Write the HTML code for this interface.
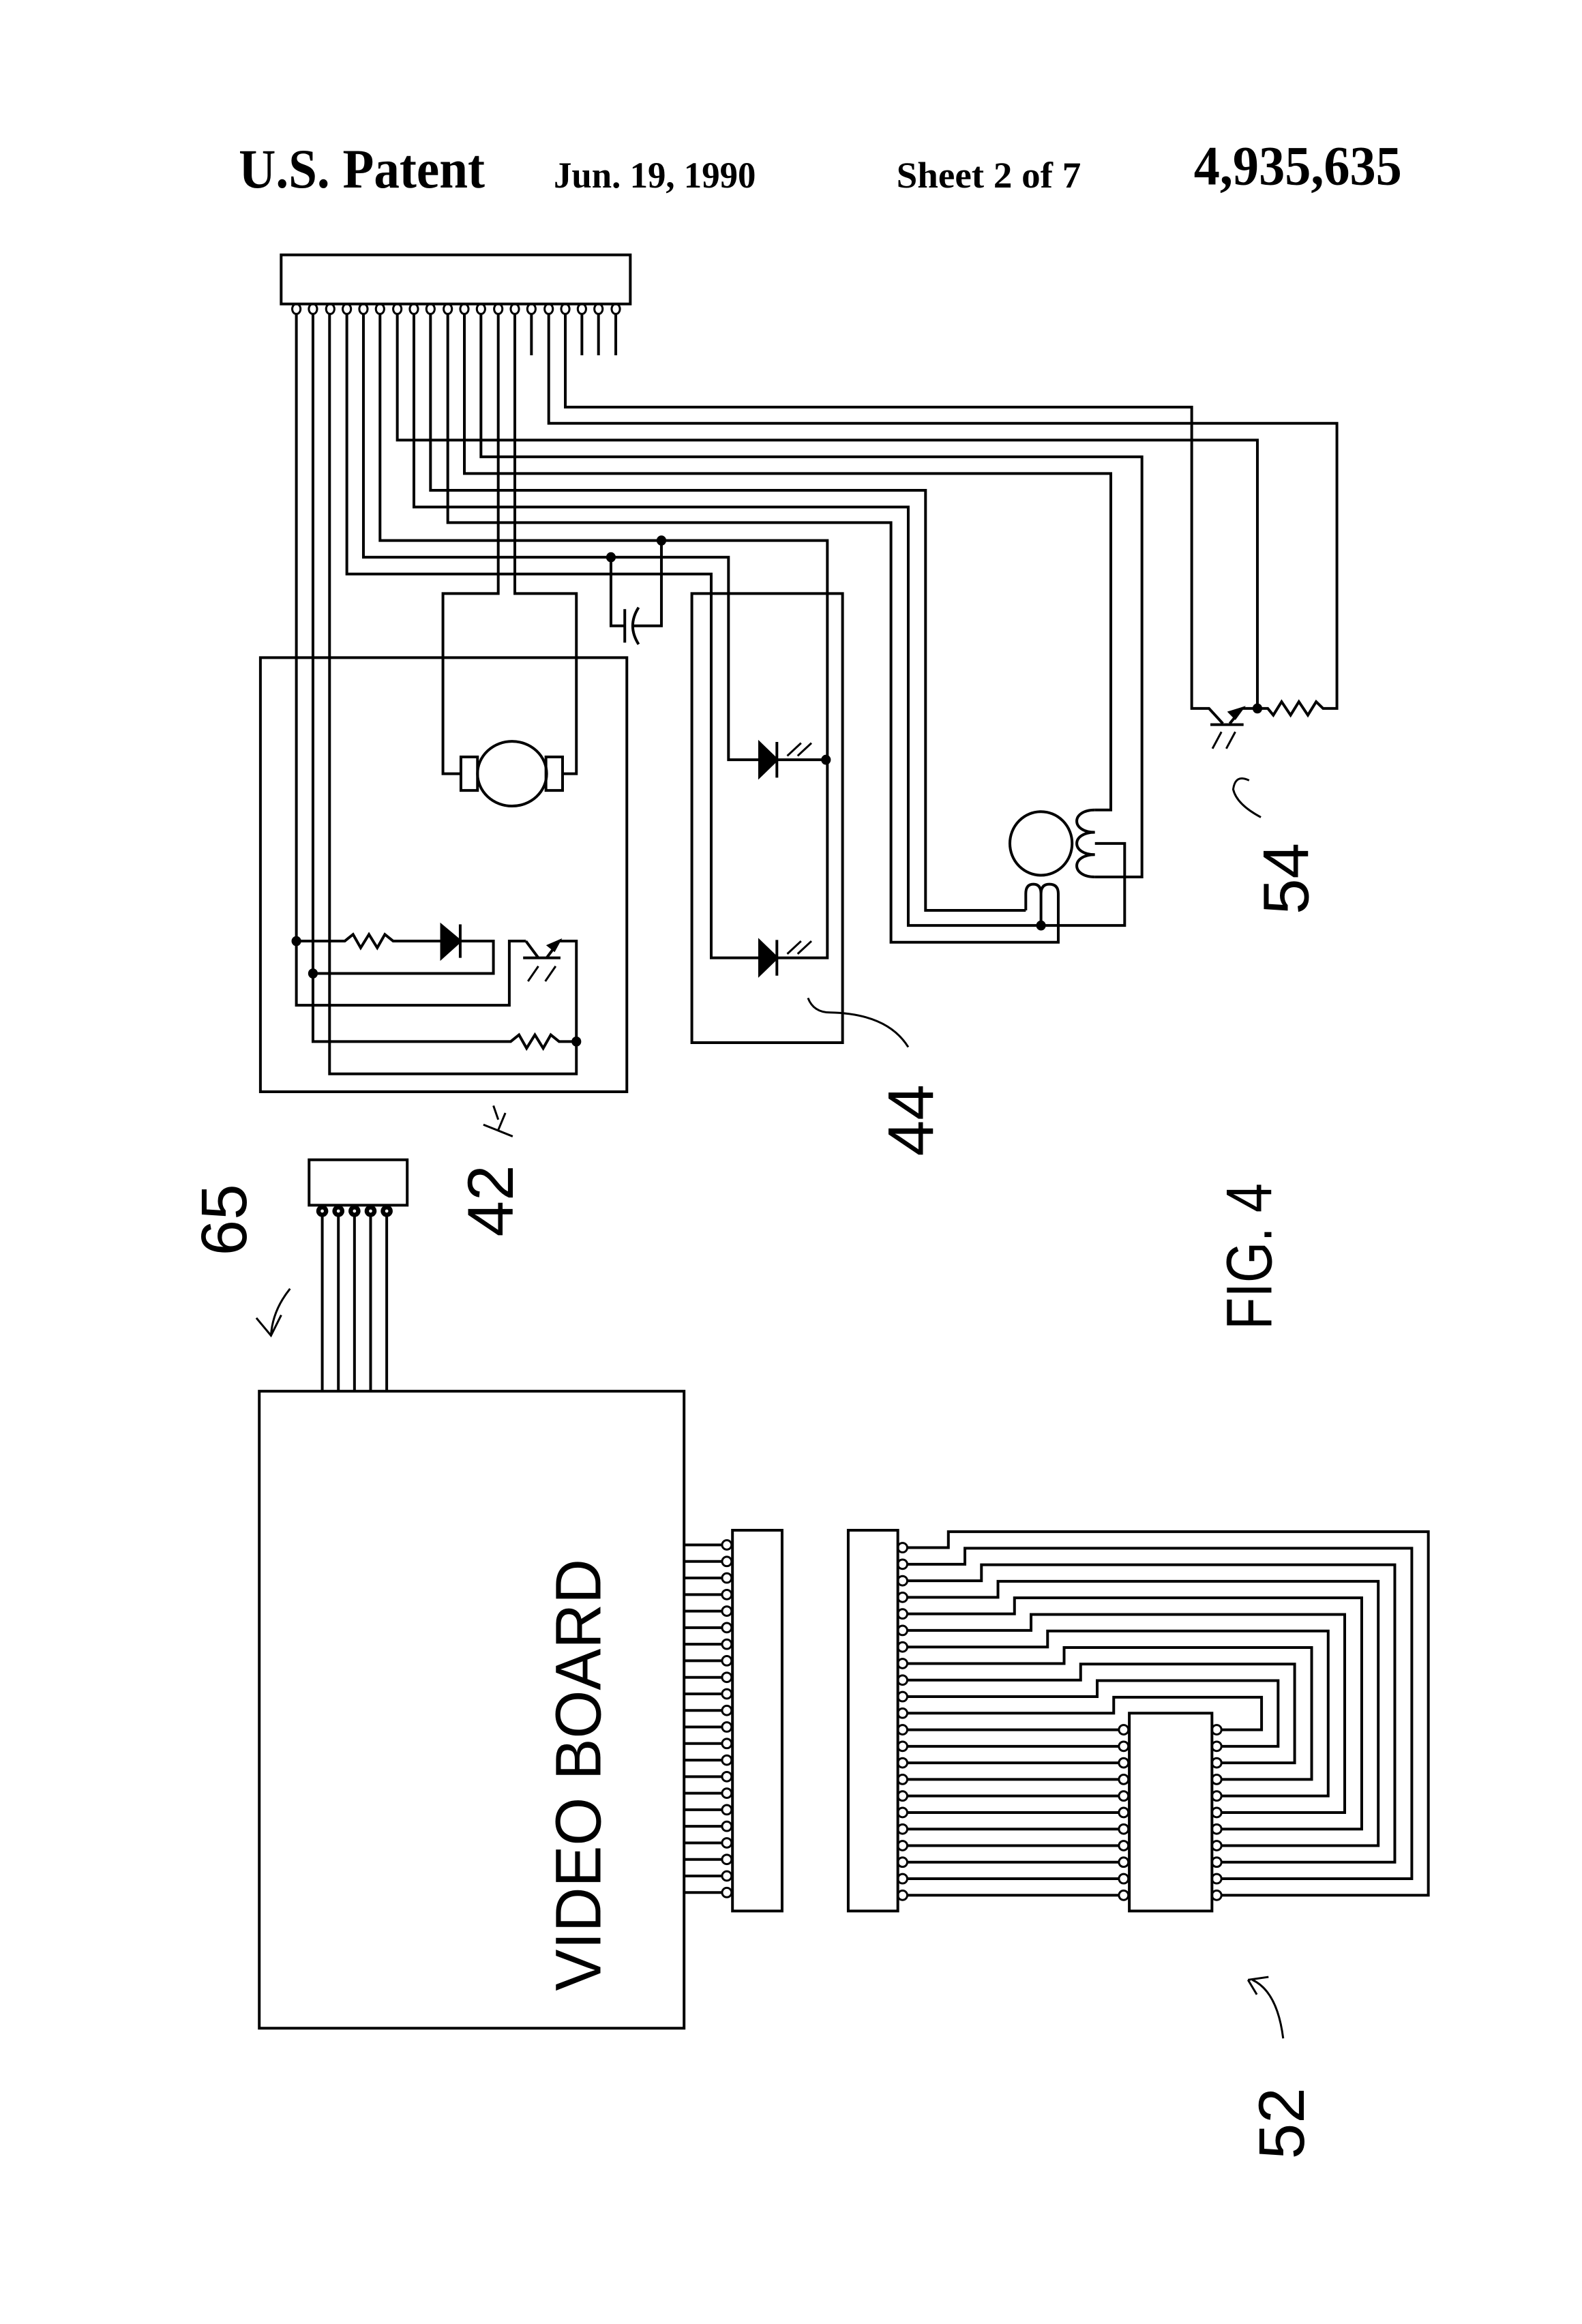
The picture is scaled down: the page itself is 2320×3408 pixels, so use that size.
<!DOCTYPE html>
<html><head><meta charset="utf-8"><style>
html,body{margin:0;padding:0;background:#fff}
svg{display:block}
.s path,.s rect,.s line,.s ellipse,.s polyline{vector-effect:non-scaling-stroke}
</style></head><body>
<svg class="s" width="2320" height="3408" viewBox="0 0 1080 1587" preserveAspectRatio="none" xmlns="http://www.w3.org/2000/svg">
<rect width="1080" height="1587" fill="#fff"/>
<g font-family="Liberation Serif, serif" font-weight="bold" fill="#000">
<text x="163" y="128" font-size="38" textLength="168" lengthAdjust="spacingAndGlyphs">U.S. Patent</text>
<text x="378" y="128" font-size="25" textLength="138" lengthAdjust="spacingAndGlyphs">Jun. 19, 1990</text>
<text x="612" y="128" font-size="25" textLength="126" lengthAdjust="spacingAndGlyphs">Sheet 2 of 7</text>
<text x="815" y="126" font-size="38" textLength="142" lengthAdjust="spacingAndGlyphs">4,935,635</text>
</g>

<g fill="none" stroke="#000" stroke-width="4">
<!-- TOP CIRCUIT in zoom coords -->
<g transform="translate(174,166.4) scale(0.472,0.381)">
<rect x="38" y="20" width="505" height="88"/>
<g stroke-width="3">
<ellipse cx="60" cy="117" rx="6" ry="9"/><ellipse cx="84" cy="117" rx="6" ry="9"/><ellipse cx="109" cy="117" rx="6" ry="9"/><ellipse cx="133" cy="117" rx="6" ry="9"/><ellipse cx="157" cy="117" rx="6" ry="9"/><ellipse cx="181" cy="117" rx="6" ry="9"/><ellipse cx="206" cy="117" rx="6" ry="9"/><ellipse cx="230" cy="117" rx="6" ry="9"/><ellipse cx="254" cy="117" rx="6" ry="9"/><ellipse cx="279" cy="117" rx="6" ry="9"/><ellipse cx="303" cy="117" rx="6" ry="9"/><ellipse cx="327" cy="117" rx="6" ry="9"/><ellipse cx="352" cy="117" rx="6" ry="9"/><ellipse cx="376" cy="117" rx="6" ry="9"/><ellipse cx="400" cy="117" rx="6" ry="9"/><ellipse cx="425" cy="117" rx="6" ry="9"/><ellipse cx="449" cy="117" rx="6" ry="9"/><ellipse cx="473" cy="117" rx="6" ry="9"/><ellipse cx="497" cy="117" rx="6" ry="9"/><ellipse cx="522" cy="117" rx="6" ry="9"/>
</g>
<path d="M400,126V200M473,126V200M497,126V200M522,126V200"/>
<!-- box 42 -->
<rect x="8" y="742" width="530" height="778"/>
<path d="M60,126V1365H368V1250H392"/>
<path d="M60,1250H130L142,1238L153,1262L165,1238L177,1262L188,1238L200,1250H270M297,1250H345V1308H84"/>
<path d="M270,1222L270,1280L297,1250Z" fill="#000"/>
<path d="M297,1220V1280"/>
<path d="M84,126V1430H370L382,1418L393,1442L405,1418L417,1442L428,1418L440,1430H465"/>
<path d="M108,126V1488H465V1250H440"/>
<path d="M392,1250L410,1280M388,1280H442M422,1280L440,1250"/>
<path d="M440,1250L425,1258L433,1266Z" fill="#000"/>
<path d="M395,1322L410,1295M420,1322L435,1295" stroke-width="3"/>
<!-- box 44 -->
<rect x="632" y="627" width="218" height="805"/>
<path d="M133,126V592H660V1280H730"/>
<path d="M157,126V562H685V925H730"/>
<path d="M181,126V532H828V1280H755M755,925H828"/>
<path d="M730,895L730,955L755,925ZM730,1250L730,1310L755,1280Z" fill="#000"/>
<path d="M755,893V957M755,1248V1312"/>
<path d="M790,895L770,918M805,895L785,918M790,1250L770,1273M805,1250L785,1273" stroke-width="3"/>
<!-- capacitor -->
<path d="M515,562V685H535M535,655V715M555,652Q538,685 555,718M548,685H588V532"/>
<!-- motor -->
<path d="M352,126V627H272V950H298M376,126V627H465V950H445"/>
<ellipse cx="372" cy="950" rx="50" ry="58"/>
<rect x="298" y="920" width="24" height="60"/>
<rect x="421" y="920" width="24" height="60"/>
<!-- stepper -->
<path d="M206,126V352H1450V833"/>
<path d="M230,126V472H945V1222H1258V1075H1215"/>
<path d="M254,126V442H970V1195H1115"/>
<path d="M279,126V500H920V1252H1162V1195"/>
<path d="M303,126V412H1238V1015H1215"/>
<path d="M327,126V382H1283V1135H1215"/>
<ellipse cx="1137" cy="1075" rx="45" ry="57"/>
<path d="M1215,1015C1180,1015 1180,1055 1215,1055C1180,1055 1180,1095 1215,1095C1180,1095 1180,1135 1215,1135"/>
<path d="M1115,1195V1165Q1115,1148 1126,1148Q1137,1148 1137,1165V1222M1137,1165Q1137,1148 1149,1148Q1162,1148 1162,1165V1195"/>
<!-- transistor 54 -->
<path d="M425,126V322H1565V833H1545L1535,821L1523,845L1510,821L1498,845L1485,821L1473,845L1465,833H1428"/>
<path d="M449,126V293H1355V833H1380L1400,860M1382,862H1430M1410,860L1428,833"/>
<path d="M1428,833L1410,840L1418,850Z" fill="#000"/>
<path d="M1385,905L1398,875M1405,905L1418,875" stroke-width="3"/>
<!-- leaders -->
<path d="M800,1352Q808,1378 832,1378Q915,1380 945,1440" stroke-width="3"/>
<path d="M1438,962Q1418,950 1415,978Q1420,1005 1455,1028" stroke-width="3"/>
<path d="M345,1545L352,1570" stroke-width="3"/>
<g fill="#000" stroke="none">
<ellipse cx="60" cy="1250" rx="7" ry="9"/><ellipse cx="84" cy="1308" rx="7" ry="9"/><ellipse cx="465" cy="1430" rx="7" ry="9"/>
<ellipse cx="515" cy="562" rx="7" ry="9"/><ellipse cx="588" cy="532" rx="7" ry="9"/><ellipse cx="826" cy="925" rx="7" ry="9"/>
<ellipse cx="1137" cy="1222" rx="7" ry="9"/><ellipse cx="1450" cy="833" rx="7" ry="9"/>
</g>
</g>

<!-- 42 leader, 65 arrow, 52 leader (root coords) -->
<path d="M330,768L340,772L345,760M340,772L350,776" stroke-width="3"/>
<path d="M198,880Q186,895 185,912M175,900L185,912L192,898" stroke-width="3"/>
<path d="M855,1352Q872,1360 876,1392M852,1352L866,1350M852,1352L858,1362" stroke-width="3"/>

<!-- connector 65 -->
<rect x="211" y="792" width="67" height="31"/>
<g stroke-width="3"><circle cx="220" cy="827" r="2.6"/><circle cx="231" cy="827" r="2.6"/><circle cx="242" cy="827" r="2.6"/><circle cx="253" cy="827" r="2.6"/><circle cx="264" cy="827" r="2.6"/></g>
<path d="M220,830V950M231,830V950M242,830V950M253,830V950M264,830V950"/>
<!-- video board -->
<rect x="177" y="950" width="290" height="435"/>

<!-- BOTTOM -->
<g transform="translate(480.7,1013.9) scale(0.3225,0.1884)">
<rect x="60" y="165" width="105" height="1380"/>
<rect x="305" y="165" width="105" height="1380"/>
<rect x="900" y="828" width="175" height="717"/>
<path d="M-42,218H38M-42,278H38M-42,338H38M-42,398H38M-42,458H38M-42,518H38M-42,578H38M-42,638H38M-42,698H38M-42,758H38M-42,818H38M-42,878H38M-42,938H38M-42,998H38M-42,1058H38M-42,1118H38M-42,1178H38M-42,1238H38M-42,1298H38M-42,1358H38M-42,1418H38M-42,1478H38"/>
<g stroke-width="3">
<ellipse cx="48" cy="218" rx="10" ry="17"/><ellipse cx="48" cy="278" rx="10" ry="17"/><ellipse cx="48" cy="338" rx="10" ry="17"/><ellipse cx="48" cy="398" rx="10" ry="17"/><ellipse cx="48" cy="458" rx="10" ry="17"/><ellipse cx="48" cy="518" rx="10" ry="17"/><ellipse cx="48" cy="578" rx="10" ry="17"/><ellipse cx="48" cy="638" rx="10" ry="17"/><ellipse cx="48" cy="698" rx="10" ry="17"/><ellipse cx="48" cy="758" rx="10" ry="17"/><ellipse cx="48" cy="818" rx="10" ry="17"/><ellipse cx="48" cy="878" rx="10" ry="17"/><ellipse cx="48" cy="938" rx="10" ry="17"/><ellipse cx="48" cy="998" rx="10" ry="17"/><ellipse cx="48" cy="1058" rx="10" ry="17"/><ellipse cx="48" cy="1118" rx="10" ry="17"/><ellipse cx="48" cy="1178" rx="10" ry="17"/><ellipse cx="48" cy="1238" rx="10" ry="17"/><ellipse cx="48" cy="1298" rx="10" ry="17"/><ellipse cx="48" cy="1358" rx="10" ry="17"/><ellipse cx="48" cy="1418" rx="10" ry="17"/><ellipse cx="48" cy="1478" rx="10" ry="17"/>
<ellipse cx="420" cy="228" rx="10" ry="17"/><ellipse cx="420" cy="288" rx="10" ry="17"/><ellipse cx="420" cy="348" rx="10" ry="17"/><ellipse cx="420" cy="408" rx="10" ry="17"/><ellipse cx="420" cy="468" rx="10" ry="17"/><ellipse cx="420" cy="528" rx="10" ry="17"/><ellipse cx="420" cy="588" rx="10" ry="17"/><ellipse cx="420" cy="648" rx="10" ry="17"/><ellipse cx="420" cy="708" rx="10" ry="17"/><ellipse cx="420" cy="768" rx="10" ry="17"/><ellipse cx="420" cy="828" rx="10" ry="17"/><ellipse cx="420" cy="888" rx="10" ry="17"/><ellipse cx="420" cy="948" rx="10" ry="17"/><ellipse cx="420" cy="1008" rx="10" ry="17"/><ellipse cx="420" cy="1068" rx="10" ry="17"/><ellipse cx="420" cy="1128" rx="10" ry="17"/><ellipse cx="420" cy="1188" rx="10" ry="17"/><ellipse cx="420" cy="1248" rx="10" ry="17"/><ellipse cx="420" cy="1308" rx="10" ry="17"/><ellipse cx="420" cy="1368" rx="10" ry="17"/><ellipse cx="420" cy="1428" rx="10" ry="17"/><ellipse cx="420" cy="1488" rx="10" ry="17"/>
<ellipse cx="888" cy="888" rx="10" ry="17"/><ellipse cx="888" cy="948" rx="10" ry="17"/><ellipse cx="888" cy="1008" rx="10" ry="17"/><ellipse cx="888" cy="1068" rx="10" ry="17"/><ellipse cx="888" cy="1128" rx="10" ry="17"/><ellipse cx="888" cy="1188" rx="10" ry="17"/><ellipse cx="888" cy="1248" rx="10" ry="17"/><ellipse cx="888" cy="1308" rx="10" ry="17"/><ellipse cx="888" cy="1368" rx="10" ry="17"/><ellipse cx="888" cy="1428" rx="10" ry="17"/><ellipse cx="888" cy="1488" rx="10" ry="17"/>
<ellipse cx="1085" cy="888" rx="10" ry="17"/><ellipse cx="1085" cy="948" rx="10" ry="17"/><ellipse cx="1085" cy="1008" rx="10" ry="17"/><ellipse cx="1085" cy="1068" rx="10" ry="17"/><ellipse cx="1085" cy="1128" rx="10" ry="17"/><ellipse cx="1085" cy="1188" rx="10" ry="17"/><ellipse cx="1085" cy="1248" rx="10" ry="17"/><ellipse cx="1085" cy="1308" rx="10" ry="17"/><ellipse cx="1085" cy="1368" rx="10" ry="17"/><ellipse cx="1085" cy="1428" rx="10" ry="17"/><ellipse cx="1085" cy="1488" rx="10" ry="17"/>
</g>
<path d="M430,888H878M430,948H878M430,1008H878M430,1068H878M430,1128H878M430,1188H878M430,1248H878M430,1308H878M430,1368H878M430,1428H878M430,1488H878"/>
<path d="M430,228H517V170H1533V1488H1095"/>
<path d="M430,288H552V230H1498V1428H1095"/>
<path d="M430,348H587V290H1462V1368H1095"/>
<path d="M430,408H622V350H1427V1308H1095"/>
<path d="M430,468H657V410H1392V1248H1095"/>
<path d="M430,528H692V470H1356V1188H1095"/>
<path d="M430,588H727V530H1321V1128H1095"/>
<path d="M430,648H762V590H1286V1068H1095"/>
<path d="M430,708H797V650H1250V1008H1095"/>
<path d="M430,768H832V710H1215V948H1095"/>
<path d="M430,828H867V770H1180V888H1095"/>
</g>
</g>

<g font-family="Liberation Sans, sans-serif" fill="#000">
<text transform="translate(893,600) rotate(-90)" text-anchor="middle" font-size="44">54</text>
<text transform="translate(637,765) rotate(-90)" text-anchor="middle" font-size="44">44</text>
<text transform="translate(350,820) rotate(-90)" text-anchor="middle" font-size="44">42</text>
<text transform="translate(168,833) rotate(-90)" text-anchor="middle" font-size="44">65</text>
<text transform="translate(890,1450) rotate(-90)" text-anchor="middle" font-size="44">52</text>
<text transform="translate(868,858) rotate(-90)" text-anchor="middle" font-size="44" textLength="100" lengthAdjust="spacingAndGlyphs">FIG. 4</text>
<text transform="translate(410,1212) rotate(-90)" text-anchor="middle" font-size="44" textLength="295" lengthAdjust="spacingAndGlyphs">VIDEO BOARD</text>
</g>
</svg>
</body></html>
